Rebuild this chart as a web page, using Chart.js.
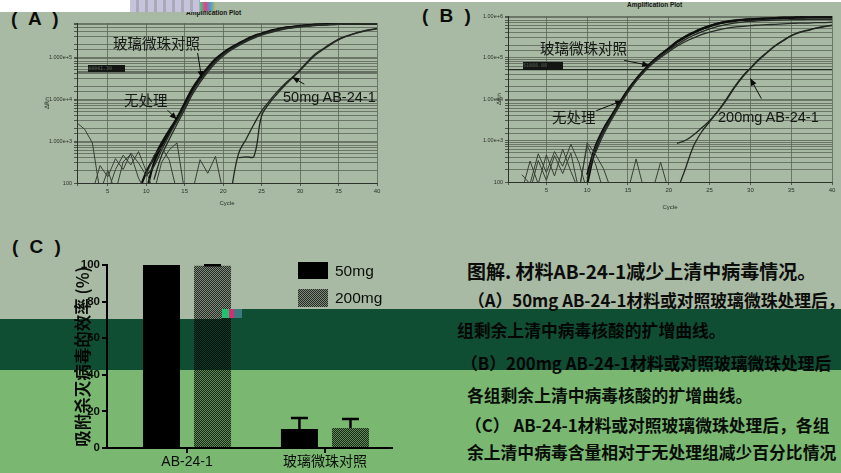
<!DOCTYPE html>
<html lang="zh-CN">
<head>
<meta charset="UTF-8">
<meta name="viewport" content="width=device-width, initial-scale=1.0">
<title>材料AB-24-1减少上清中病毒情况</title>
<script src="https://cdn.jsdelivr.net/npm/chart.js"></script>
<style>
  html, body { margin: 0; padding: 0; }
  #pagina { position: relative; width: 841px; height: 473px; overflow: hidden; background: #fff; isolation: isolate;
    font-family: "Noto Sans CJK SC", sans-serif; color: #111; }
  .caixa { position: absolute; }
  .txt { position: absolute; white-space: nowrap; line-height: 1.2; }
  .tinta { position: absolute; mix-blend-mode: multiply; pointer-events: none; }
  .anot { font-size: 14.5px; color: #222; }
  .latim { font-family: "Liberation Sans", Arial, sans-serif; }
  .titulo-amp { font: bold 6.5px "Liberation Sans", sans-serif; color: #222; }
  .painel { font: bold 19px "Liberation Sans", sans-serif; letter-spacing: 3px; }
  .legenda { font-size: 16.8px; font-weight: bold; }
  .limiar { position: absolute; background: #1e1e1e; color: #888; font: 5px "DejaVu Sans Mono", monospace; line-height: 7px; overflow: hidden; }
</style>
</head>
<body>
<div id="pagina">
  <!-- painel A -->
  <div class="txt painel" style="left:11px;top:8px">( A )</div>
  <div class="txt titulo-amp" style="left:186px;top:9px">Amplification Plot</div>
  <div class="caixa" style="left:30px;top:8px;width:355px;height:205px"><canvas id="graficoA"></canvas></div>
  <div class="limiar" style="left:88px;top:65px;width:37px;height:7px">44041.30</div>
  <div class="txt anot" style="left:113px;top:34px">玻璃微珠对照</div>
  <div class="txt anot" style="left:124px;top:91px">无处理</div>
  <div class="txt anot latim" style="left:283px;top:89px">50mg AB-24-1</div>

  <!-- painel B -->
  <div class="txt painel" style="left:422px;top:5px">( B )</div>
  <div class="txt titulo-amp" style="left:627px;top:1px">Amplification Plot</div>
  <div class="caixa" style="left:455px;top:4px;width:385px;height:210px"><canvas id="graficoB"></canvas></div>
  <div class="limiar" style="left:523px;top:62px;width:40px;height:8px">51088.88</div>
  <div class="txt anot" style="left:540px;top:39px">玻璃微珠对照</div>
  <div class="txt anot" style="left:552px;top:108px">无处理</div>
  <div class="txt anot latim" style="left:718px;top:109px">200mg AB-24-1</div>

  <!-- painel C -->
  <div class="txt painel" style="left:12px;top:236px">( C )</div>
  <div class="caixa" style="left:65px;top:250px;width:335px;height:222px"><canvas id="graficoC"></canvas></div>
  <div class="caixa" style="left:298px;top:262px;width:30px;height:17px;background:#000"></div>
  <div class="txt latim" style="left:335px;top:262px;font-size:15.5px">50mg</div>
  <div class="caixa" style="left:298px;top:289px;width:30px;height:18px;background:repeating-conic-gradient(#3a3a3a 0 25%, #bdbdbd 0 50%) 0 0/2px 2px"></div>
  <div class="txt latim" style="left:335px;top:289px;font-size:15.5px">200mg</div>

  <!-- legenda da figura -->
  <div class="txt" style="left:467px;top:260px;font-size:19px;font-weight:bold">图解. 材料AB-24-1减少上清中病毒情况。</div>
  <div class="txt legenda" style="left:468px;top:290px">（A）50mg AB-24-1材料或对照玻璃微珠处理后，各</div>
  <div class="txt legenda" style="left:457px;top:320px">组剩余上清中病毒核酸的扩增曲线。</div>
  <div class="txt legenda" style="left:461px;top:353px">（B）200mg AB-24-1材料或对照玻璃微珠处理后</div>
  <div class="txt legenda" style="left:467px;top:385px">各组剩余上清中病毒核酸的扩增曲线。</div>
  <div class="txt legenda" style="left:465px;top:415px">（C） AB-24-1材料或对照玻璃微珠处理后，各组</div>
  <div class="txt legenda" style="left:467px;top:442px">余上清中病毒含量相对于无处理组减少百分比情况</div>

  <!-- tons da digitalização -->
  <div class="tinta" style="left:0;top:0;width:841px;height:309px;background:#a8baa3"></div>
  <div class="tinta" style="left:0;top:309px;width:222px;height:10px;background:#a8baa3"></div>
  <div class="tinta" style="left:0;top:319px;width:222px;height:51px;background:#104e34"></div>
  <div class="tinta" style="left:222px;top:309px;width:619px;height:61px;background:#104e34"></div>
  <div class="tinta" style="left:0;top:370px;width:841px;height:103px;background:#7ab872"></div>
  <div class="caixa" style="left:0;top:0;width:841px;height:2px;background:#fff"></div>
  <div class="caixa" style="left:0;top:0;width:130px;height:12px;background:#fff"></div>
  <div class="caixa" style="left:130px;top:0;width:70px;height:12px;background:repeating-linear-gradient(90deg,#c6c4dc 0 6px,#a9a9b8 6px 9px)"></div>
  <div class="caixa" style="left:200px;top:2px;width:16px;height:9px;background:linear-gradient(90deg,#3ad07a,#e0408a,#4aa0d0,#c0c060)"></div>
  <div class="caixa" style="left:222px;top:309px;width:7px;height:9px;background:#22c070"></div>
  <div class="caixa" style="left:229px;top:309px;width:5px;height:9px;background:#d03070"></div>
  <div class="caixa" style="left:234px;top:309px;width:8px;height:9px;background:#3a7a80"></div>
</div>

<script>
  const N = null;
  const ciclos = [1, 2, 3, 4, 5, 6, 7, 8, 9, 10, 11, 12, 13, 14, 15, 16, 17, 18, 19, 20,
    21, 22, 23, 24, 25, 26, 27, 28, 29, 30, 31, 32, 33, 34, 35, 36, 37, 38, 39, 40];

  // (A) ΔRn por ciclo
  const controleA1 = [N, N, N, N, N, N, N, N, 60, 180, 400, 890, 1800, 3500, 7900, 17800, 33000, 56000, 89000, 126000,
    166000, 209000, 263000, 316000, 363000, 417000, 457000, 501000, 525000, 550000, 575000, 589000, 603000, 617000, 617000, 631000, 631000, 631000, 631000, 631000];
  const controleA2 = [N, N, N, N, N, N, N, N, N, 60, 300, 760, 1600, 3200, 7100, 16000, 30000, 52000, 83000, 120000,
    158000, 200000, 251000, 302000, 350000, 400000, 445000, 490000, 515000, 540000, 562000, 580000, 595000, 605000, 612000, 620000, 622000, 625000, 625000, 628000];
  const semTratA1 = [N, N, N, N, N, N, N, N, N, 150, 250, 600, 1400, 3000, 6500, 14500, 28000, 49000, 79000, 115000,
    155000, 195000, 245000, 295000, 345000, 390000, 435000, 480000, 510000, 535000, 558000, 575000, 590000, 600000, 608000, 615000, 618000, 620000, 622000, 625000];
  const semTratA2 = [N, N, N, N, N, N, N, N, N, N, 120, 450, 1100, 2500, 5600, 12800, 25000, 44000, 72000, 106000,
    145000, 185000, 232000, 282000, 330000, 375000, 420000, 462000, 495000, 520000, 545000, 562000, 578000, 590000, 598000, 605000, 610000, 614000, 617000, 620000];
  const mg50A1 = [N, N, N, N, N, N, N, N, N, N, N, N, N, N, N, N, N, N, N, N,
    60, 500, 1120, 2500, 5250, 8900, 14800, 22900, 33100, 50100, 79400, 120000, 158000, 209000, 269000, 316000, 363000, 407000, 447000, 479000];
  const mg50A2 = [N, N, N, N, N, N, N, N, N, N, N, N, N, N, N, N, N, N, N, N,
    N, 400, 420, 430, 4000, 7900, 13200, 20900, 31600, 47900, 74100, 112000, 151000, 200000, 257000, 309000, 355000, 398000, 437000, 468000];
  const ruidoA1 = [2700, 1900, 900, 60, 200, 60, 320, 480, 130, 60, N, N, N, N, N, N, N, N, N, N,
    N, N, N, N, N, N, N, N, N, N, N, N, N, N, N, N, N, N, N, N];
  const ruidoA2 = [N, N, 60, 260, 140, 380, 210, 520, 300, 150, 460, 720, 350, 60, N, N, N, N, N, N,
    N, N, N, N, N, N, N, N, N, N, N, N, N, N, N, N, N, N, N, N];
  const ruidoA3 = [N, N, N, N, 60, 210, 460, 270, 560, 190, 60, 310, 620, 900, 60, N, N, N, N, N,
    N, N, N, N, N, N, N, N, N, N, N, N, N, N, N, N, N, N, N, N];
  const ruidoA4 = [N, N, N, N, N, N, N, N, N, N, N, N, N, N, 60, 60, 360, 170, 430, 60,
    60, 60, N, N, N, N, N, N, N, N, N, N, N, N, N, N, N, N, N, N];
  const limiarA = 44000;

  // (B) ΔRn por ciclo
  const controleB1 = [N, N, N, N, N, N, N, N, N, 150, 708, 1900, 3980, 8300, 16600, 30200, 50100, 79400, 117000, 166000,
    240000, 316000, 398000, 490000, 575000, 661000, 724000, 776000, 813000, 832000, 851000, 871000, 891000, 912000, 912000, 933000, 933000, 933000, 933000, 933000];
  const controleB2 = [N, N, N, N, N, N, N, N, N, 90, 600, 1700, 3700, 7900, 15800, 29000, 48000, 77000, 114000, 162000,
    234000, 309000, 390000, 480000, 565000, 650000, 715000, 765000, 800000, 822000, 840000, 860000, 880000, 898000, 905000, 915000, 920000, 922000, 925000, 925000];
  const semTratB1 = [N, N, N, N, N, N, N, N, N, 120, 631, 1660, 3550, 7590, 15100, 27500, 45700, 70800, 100000, 138000,
    186000, 240000, 295000, 355000, 407000, 457000, 501000, 537000, 562000, 589000, 603000, 617000, 631000, 646000, 661000, 676000, 676000, 692000, 692000, 708000];
  const semTratB2 = [N, N, N, N, N, N, N, N, N, N, 500, 1400, 3200, 7000, 14500, 27000, 46000, 74000, 108000, 150000,
    204000, 270000, 340000, 415000, 490000, 560000, 620000, 670000, 710000, 740000, 760000, 780000, 795000, 805000, 815000, 820000, 825000, 830000, 832000, 835000];
  const mg200B1 = [N, N, N, N, N, N, N, N, N, N, N, N, N, N, N, N, N, N, N, N,
    60, 200, 708, 1580, 2820, 5010, 9550, 19100, 34700, 56200, 89100, 132000, 191000, 257000, 339000, 407000, 457000, 513000, 562000, 603000];
  const mg200B2 = [N, N, N, N, N, N, N, N, N, N, N, N, N, N, N, N, N, N, N, N,
    850, 1000, 1350, 2000, 3000, 5000, 9000, 18000, 33000, 54000, 86000, 128000, 186000, 251000, 331000, 398000, 447000, 501000, 550000, 589000];
  const ruidoB1 = [N, 60, 320, 90, 450, 140, 620, 180, 60, 760, 280, 60, N, N, N, N, N, N, N, N,
    N, N, N, N, N, N, N, N, N, N, N, N, N, N, N, N, N, N, N, N];
  const ruidoB2 = [N, 150, 90, 480, 170, 540, 240, 820, 290, 60, N, N, N, N, N, N, N, N, N, N,
    N, N, N, N, N, N, N, N, N, N, N, N, N, N, N, N, N, N, N, N];
  const ruidoB3 = [N, N, 60, 330, 110, 430, 160, 500, 60, 880, 470, 210, 60, N, N, N, N, N, N, N,
    N, N, N, N, N, N, N, N, N, N, N, N, N, N, N, N, N, N, N, N];
  const ruidoB4 = [N, N, N, N, N, N, N, N, N, N, N, N, 60, 60, 60, 360, 60, 60, 300, 60,
    60, N, N, N, N, N, N, N, N, N, N, N, N, N, N, N, N, N, N, N];
  const limiarB = 51000;

  // (C) 吸附杀灭病毒的效率
  const categorias = ['AB-24-1', '玻璃微珠对照'];
  const taxa50 = [100, 10.4];
  const taxa200 = [99.6, 10.9];
  const erro50 = [0, 6.0];
  const erro200 = [0.2, 5.0];

  // setas das anotações: alvo = ponto da curva (ciclo, ΔRn), cauda = deslocamento em px
  const setasA = [
    { alvo: [17.2, 31600], cauda: [-4, -25] },
    { alvo: [13.95, 3300], cauda: [-9, -9] },
    { alvo: [29.0, 33000], cauda: [12, 7] }
  ];
  const setasB = [
    { alvo: [17.6, 64600], cauda: [-25, -5] },
    { alvo: [14.3, 9100], cauda: [-26, 10] },
    { alvo: [30.0, 31000], cauda: [11, 20] }
  ];

  function serie(valores, cor, largura, suave) {
    return {
      data: ciclos.map((c, i) => ({ x: c, y: valores[i] })),
      borderColor: cor,
      borderWidth: largura,
      pointRadius: 0,
      tension: suave ? 0.4 : 0,
      fill: false
    };
  }

  const setas = {
    id: 'setas',
    afterDatasetsDraw(chart, args, opts) {
      const { ctx, scales: { x, y } } = chart;
      ctx.save();
      ctx.strokeStyle = '#111';
      ctx.fillStyle = '#111';
      ctx.lineWidth = 1;
      (opts.lista || []).forEach(s => {
        const hx = x.getPixelForValue(s.alvo[0]);
        const hy = y.getPixelForValue(s.alvo[1]);
        const tx = hx + s.cauda[0], ty = hy + s.cauda[1];
        const ang = Math.atan2(hy - ty, hx - tx);
        ctx.beginPath();
        ctx.moveTo(tx, ty);
        ctx.lineTo(hx, hy);
        ctx.stroke();
        ctx.beginPath();
        ctx.moveTo(hx, hy);
        ctx.lineTo(hx - 7 * Math.cos(ang) + 3 * Math.sin(ang), hy - 7 * Math.sin(ang) - 3 * Math.cos(ang));
        ctx.lineTo(hx - 7 * Math.cos(ang) - 3 * Math.sin(ang), hy - 7 * Math.sin(ang) + 3 * Math.cos(ang));
        ctx.closePath();
        ctx.fill();
      });
      ctx.restore();
    }
  };

  function graficoAmp(id, conf) {
    const linhas = [
      ...conf.ruidos.map(r => serie(r, '#555', 1, false)),
      ...conf.semTrat.map(r => serie(r, '#3a3a3a', 1.3, true)),
      ...conf.tratado.map(r => serie(r, '#333', 1.3, true)),
      ...conf.controle.map(r => serie(r, '#151515', 2.2, true)),
      {
        data: [{ x: conf.xMin, y: conf.limiar }, { x: 40, y: conf.limiar }],
        borderColor: '#333', borderWidth: 1.2, pointRadius: 0
      }
    ];
    const grade = { color: '#8a8a8a', lineWidth: 0.8, tickLength: 3, tickColor: '#555' };
    return new Chart(document.getElementById(id), {
      type: 'line',
      data: { datasets: linhas },
      options: {
        animation: false,
        responsive: true,
        maintainAspectRatio: false,
        events: [],
        layout: { padding: { top: conf.topo, right: 8, left: 0, bottom: 0 } },
        plugins: { legend: { display: false }, tooltip: { enabled: false }, setas: { lista: conf.setas } },
        scales: {
          x: {
            type: 'linear', min: conf.xMin, max: 40,
            grid: grade,
            border: { display: true, color: '#444', width: 1 },
            ticks: { stepSize: 5, autoSkip: false, maxRotation: 0, padding: 2, color: '#444',
              font: { size: 6, family: 'Liberation Sans' },
              callback: v => (v % 5 === 0 ? v : '') },
            title: { display: true, text: 'Cycle', color: '#444', font: { size: 6, family: 'Liberation Sans' },
              padding: { top: 0, bottom: conf.cicloPad } },
            afterFit: s => { s.height = conf.xAltura; }
          },
          y: {
            type: 'logarithmic', min: 100, max: conf.yMax,
            grid: grade,
            border: { display: true, color: '#444', width: 1 },
            ticks: { autoSkip: false, padding: 2, color: '#444',
              font: { size: 5.5, family: 'Liberation Sans' },
              callback: v => {
                const e = Math.round(Math.log10(v));
                if (Math.abs(Math.log10(v) - e) > 1e-6) return '';
                return e === 2 ? '100' : conf.prefixo + e;
              } },
            title: { display: true, text: 'ΔRn', color: '#444', font: { size: 6, family: 'DejaVu Sans' },
              padding: { top: conf.rnPad, bottom: 0 } },
            afterFit: s => { s.width = conf.yLargura; }
          }
        }
      },
      plugins: [setas]
    });
  }

  graficoAmp('graficoA', {
    ruidos: [ruidoA1, ruidoA2, ruidoA3, ruidoA4],
    semTrat: [semTratA1, semTratA2],
    tratado: [mg50A1, mg50A2],
    controle: [controleA1, controleA2],
    limiar: limiarA, setas: setasA,
    xMin: 1, yMax: 646000, prefixo: '1.000e+',
    topo: 15, xAltura: 30, yLargura: 47, cicloPad: 6, rnPad: 14
  });

  graficoAmp('graficoB', {
    ruidos: [ruidoB1, ruidoB2, ruidoB3, ruidoB4],
    semTrat: [semTratB1, semTratB2],
    tratado: [mg200B1, mg200B2],
    controle: [controleB1, controleB2],
    limiar: limiarB, setas: setasB,
    xMin: 0.3, yMax: 1000000, prefixo: '1.00e+',
    topo: 12, xAltura: 32, yLargura: 53, cicloPad: 3, rnPad: 41
  });

  // padrão pontilhado da barra de 200mg
  const pc = document.createElement('canvas');
  pc.width = 2; pc.height = 2;
  const pg = pc.getContext('2d');
  pg.fillStyle = '#bdbdbd'; pg.fillRect(0, 0, 2, 2);
  pg.fillStyle = '#3a3a3a'; pg.fillRect(0, 0, 1, 1); pg.fillRect(1, 1, 1, 1);
  const padrao = pg.createPattern(pc, 'repeat');

  const barrasErro = {
    id: 'barrasErro',
    afterDatasetsDraw(chart) {
      const { ctx, scales: { y } } = chart;
      ctx.save();
      ctx.strokeStyle = '#000';
      ctx.lineWidth = 2.5;
      chart.data.datasets.forEach((ds, i) => {
        chart.getDatasetMeta(i).data.forEach((bar, j) => {
          const e = ds.erros[j];
          if (!e) return;
          const yTopo = y.getPixelForValue(ds.data[j].y + e);
          ctx.beginPath();
          ctx.moveTo(bar.x, bar.y);
          ctx.lineTo(bar.x, yTopo);
          ctx.moveTo(bar.x - 8.5, yTopo);
          ctx.lineTo(bar.x + 8.5, yTopo);
          ctx.stroke();
        });
      });
      ctx.restore();
    }
  };

  new Chart(document.getElementById('graficoC'), {
    type: 'bar',
    data: {
      datasets: [
        { label: '50mg', data: categorias.map((c, i) => ({ x: i, y: taxa50[i] })), backgroundColor: '#000', erros: erro50 },
        { label: '200mg', data: categorias.map((c, i) => ({ x: i, y: taxa200[i] })), backgroundColor: padrao, erros: erro200 }
      ]
    },
    options: {
      animation: false,
      responsive: true,
      maintainAspectRatio: false,
      events: [],
      categoryPercentage: 0.74,
      barPercentage: 0.725,
      layout: { padding: { top: 15, right: 8, left: 0, bottom: 0 } },
      plugins: { legend: { display: false }, tooltip: { enabled: false } },
      scales: {
        x: {
          type: 'linear', min: -0.58, max: 1.486, offset: false,
          grid: { offset: false, drawOnChartArea: false, drawTicks: true, tickLength: 5, color: '#000', lineWidth: 2 },
          border: { display: true, color: '#000', width: 2 },
          afterBuildTicks: s => { s.ticks = categorias.map((c, i) => ({ value: i })); },
          ticks: { autoSkip: false, maxRotation: 0, padding: 1, color: '#111',
            font: { size: 14, family: '"Liberation Sans", "Noto Sans CJK SC"' },
            callback: v => categorias[v] },
          afterFit: s => { s.height = 24; }
        },
        y: {
          min: 0, max: 100,
          grid: { drawOnChartArea: false, drawTicks: true, tickLength: 5, color: '#000', lineWidth: 2 },
          border: { display: true, color: '#000', width: 2 },
          ticks: { stepSize: 20, padding: 2, color: '#111', font: { size: 11.5, weight: 'bold', family: 'Liberation Sans' } },
          title: { display: true, text: '吸附杀灭病毒的效率 (%)', color: '#111',
            font: { size: 16.5, weight: 'bold', family: 'Noto Sans CJK SC' }, padding: { top: 8, bottom: 0 } },
          afterFit: s => { s.width = 42; }
        }
      }
    },
    plugins: [barrasErro]
  });
</script>
</body>
</html>
